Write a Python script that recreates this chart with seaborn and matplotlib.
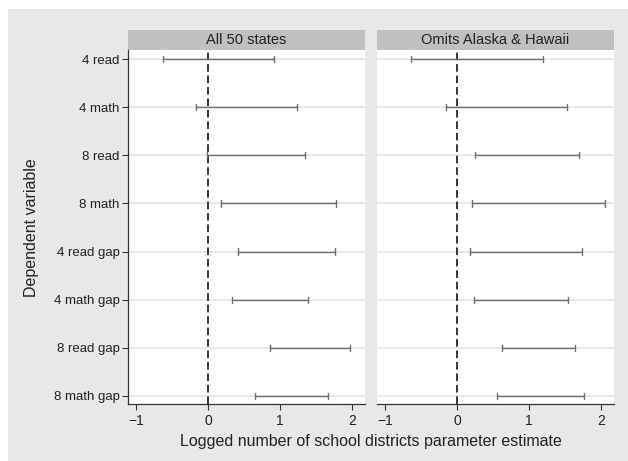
import matplotlib
matplotlib.use("Agg")
import matplotlib.pyplot as plt
from matplotlib.patches import Rectangle
import pandas as pd
import seaborn as sns

# Dependent variables (rows) and confidence bounds for each sample
outcomes = ["4 read", "4 math", "8 read", "8 math",
            "4 read gap", "4 math gap", "8 read gap", "8 math gap"]
panels = ["All 50 states", "Omits Alaska & Hawaii"]
lo_all = [-0.63, -0.17, -0.02, 0.18, 0.42, 0.34, 0.86, 0.65]
hi_all = [0.92, 1.24, 1.35, 1.78, 1.77, 1.39, 1.97, 1.67]
lo_omit = [-0.64, -0.15, 0.25, 0.21, 0.18, 0.24, 0.63, 0.55]
hi_omit = [1.20, 1.53, 1.69, 2.06, 1.73, 1.54, 1.64, 1.76]
xticks = [-1, 0, 1, 2]

rows = []
for panel, lo, hi in [(panels[0], lo_all, hi_all), (panels[1], lo_omit, hi_omit)]:
    for o, a, b in zip(outcomes, lo, hi):
        rows.append({"panel": panel, "outcome": o, "value": a})
        rows.append({"panel": panel, "outcome": o, "value": b})
df = pd.DataFrame(rows)

sns.set_theme(style="white")
plt.rcParams["font.family"] = ["Liberation Sans", "DejaVu Sans"]

W, H = 628, 461
fig = plt.figure(figsize=(W / 100, H / 100), dpi=100, facecolor="white")
bg = "#e8e8ea"
fig.patches.append(Rectangle((8 / W, 0), 1 - 8 / W, (H - 9) / H,
                             transform=fig.transFigure, facecolor=bg,
                             edgecolor="none", zorder=-10))

ax_h = (404 - 50) / H
ax_y = (H - 404) / H
ax_w = (365 - 128) / W
axes = [fig.add_axes([128 / W, ax_y, ax_w, ax_h]),
        fig.add_axes([377 / W, ax_y, ax_w, ax_h])]

for i, (ax, panel) in enumerate(zip(axes, panels)):
    sub = df[df["panel"] == panel]
    ax.set_facecolor("white")
    # light horizontal guide at each outcome
    for k in range(len(outcomes)):
        ax.axhline(k, color="#e2e2e2", linewidth=1.1, zorder=0)
    ax.axvline(0, color="black", linewidth=1.1, dashes=(5, 2.5), zorder=1)
    sns.pointplot(data=sub, x="value", y="outcome", order=outcomes,
                  orient="h", estimator="mean", errorbar=("pi", 100),
                  capsize=0.13, linestyle="none", marker="",
                  color="#6e6e6e",
                  err_kws={"linewidth": 1.0, "color": "#6e6e6e"},
                  ax=ax, zorder=2)
    ax.set_xlim((128 - 208) / 72, (365 - 208) / 72)
    ax.set_ylim(7 + 8 / 48.14, -9 / 48.14)
    ax.set_xticks(xticks)
    ax.set_xticklabels(["\u22121", "0", "1", "2"], fontsize=10, color="#222222")
    ax.set_xlabel("")
    ax.set_ylabel("")
    for s in ["top", "right"]:
        ax.spines[s].set_visible(False)
    ax.spines["bottom"].set_color("#333333")
    ax.spines["bottom"].set_linewidth(0.9)
    ax.tick_params(axis="x", direction="out", length=4, width=0.8,
                   color="#333333", pad=3, bottom=True)
    if i == 0:
        ax.spines["left"].set_color("#333333")
        ax.spines["left"].set_linewidth(0.9)
        ax.tick_params(axis="y", direction="out", length=4, width=0.8,
                       color="#333333", pad=2, left=True, labelsize=9.5,
                       labelcolor="#222222")
    else:
        ax.spines["left"].set_visible(False)
        ax.tick_params(axis="y", left=False, labelleft=False)
    # facet strip
    strip_h = 20 / (404 - 50)
    ax.add_patch(Rectangle((0, 1), 1, strip_h, transform=ax.transAxes,
                           facecolor="#bfc0c2", edgecolor="none",
                           clip_on=False))
    ax.text(0.5, 1 + strip_h / 2, panel, transform=ax.transAxes,
            ha="center", va="center", fontsize=10.5, color="#222222")

fig.text((128 + 614) / 2 / W, (H - 441) / H,
         "Logged number of school districts parameter estimate",
         ha="center", va="center", fontsize=11.5, color="#222222")
fig.text(32 / W, (H - 228) / H, "Dependent variable", rotation=90,
         ha="center", va="center", fontsize=11.5, color="#222222")

fig.savefig("out.png", dpi=100, facecolor="white")
